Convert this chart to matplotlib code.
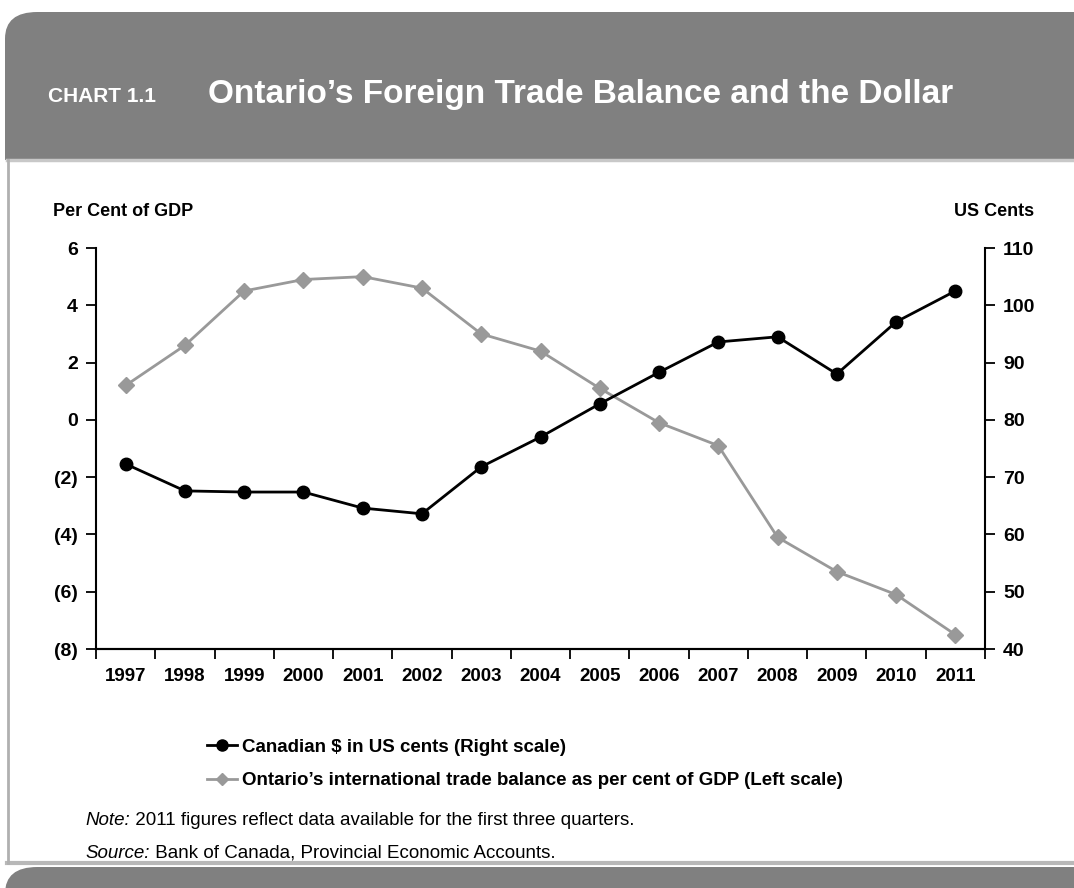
import numpy as np
import matplotlib
matplotlib.use("Agg")
import matplotlib.pyplot as plt
from matplotlib.patches import FancyBboxPatch, Rectangle
from matplotlib.lines import Line2D
from matplotlib.ticker import FuncFormatter, FixedLocator

years = ["1997", "1998", "1999", "2000", "2001", "2002", "2003", "2004",
         "2005", "2006", "2007", "2008", "2009", "2010", "2011"]
trade_balance = [1.2, 2.6, 4.5, 4.9, 5.0, 4.6, 3.0, 2.4, 1.1, -0.1, -0.9, -4.1, -5.3, -6.1, -7.5]
cad_usd = [72.3, 67.6, 67.4, 67.4, 64.6, 63.6, 71.8, 77.0, 82.8, 88.3, 93.6, 94.5, 88.0, 97.1, 102.5]

left_ticks = [-8, -6, -4, -2, 0, 2, 4, 6]
right_ticks = [40, 50, 60, 70, 80, 90, 100, 110]

plt.rcParams['font.family'] = ['Liberation Sans', 'DejaVu Sans']

W, H = 1074, 888
fig = plt.figure(figsize=(W / 100, H / 100), dpi=100)

def fx(px):
    return px / W

def fy(py):
    return 1 - py / H

# header band
hdr = FancyBboxPatch((fx(5), fy(300)), 1.2, fy(12) - fy(300),
                     boxstyle="round,pad=0,rounding_size=0.03",
                     transform=fig.transFigure, facecolor="#808080",
                     edgecolor="none", zorder=0)
fig.patches.append(hdr)
# footer band
ftr = FancyBboxPatch((fx(5), fy(1000)), 1.2, fy(867) - fy(1000),
                     boxstyle="round,pad=0,rounding_size=0.03",
                     transform=fig.transFigure, facecolor="#808080",
                     edgecolor="none", zorder=0)
fig.patches.append(ftr)
# white panel
fig.patches.append(Rectangle((0, fy(862)), 1.0, fy(160) - fy(862),
                             transform=fig.transFigure, facecolor="white",
                             edgecolor="none", zorder=1))
fig.lines.append(Line2D([fx(7), 1.0], [fy(160), fy(160)], transform=fig.transFigure,
                        color="#c8c8c8", linewidth=2.5, zorder=2))
fig.lines.append(Line2D([fx(7), 1.0], [fy(863), fy(863)], transform=fig.transFigure,
                        color="#b8b8b8", linewidth=3, zorder=2))
fig.lines.append(Line2D([fx(8), fx(8)], [fy(160), fy(863)], transform=fig.transFigure,
                        color="#b0b0b0", linewidth=2, zorder=2))

fig.text(fx(48), fy(97), "CHART 1.1", color="white", fontsize=15, fontweight="bold",
         va="center", ha="left")
fig.text(fx(208), fy(94), "Ontario\u2019s Foreign Trade Balance and the Dollar", color="white",
         fontsize=24, fontweight="bold", va="center", ha="left")

ax = fig.add_axes([fx(96), fy(649), fx(985) - fx(96), fy(248) - fy(649)])
ax.set_zorder(3)
ax.patch.set_visible(False)
x = np.arange(len(years))

ax.plot(x, trade_balance, color="#999999", linewidth=2, marker="D", markersize=8,
        markeredgecolor="#999999", markerfacecolor="#999999", zorder=3)
ax.set_xlim(-0.5, len(years) - 0.5)
ax.set_ylim(-8, 6)
ax.set_yticks(left_ticks)
ax.yaxis.set_major_formatter(FuncFormatter(lambda v, p: "(%d)" % abs(v) if v < 0 else "%d" % v))

ax2 = ax.twinx()
ax2.plot(x, cad_usd, color="black", linewidth=2, marker="o", markersize=9, zorder=4)
ax2.set_ylim(40, 110)
ax2.set_yticks(right_ticks)

ax.set_xticks(x)
ax.set_xticklabels(years)
ax.xaxis.set_minor_locator(FixedLocator(np.arange(-0.5, len(years), 1.0)))
ax.tick_params(axis="x", which="major", length=0, pad=14, labelsize=13.5)
ax.tick_params(axis="x", which="minor", length=7, width=1.3, direction="out")
ax.tick_params(axis="y", length=7, width=1.3, labelsize=14, pad=6)
ax2.tick_params(axis="y", length=7, width=1.3, labelsize=14, pad=6)
for lab in ax.get_xticklabels() + ax.get_yticklabels() + ax2.get_yticklabels():
    lab.set_fontweight("bold")

for a in (ax, ax2):
    a.spines["top"].set_visible(False)
    for s in ("left", "right", "bottom"):
        a.spines[s].set_linewidth(1.5)
ax.spines["right"].set_visible(False)
ax2.spines["left"].set_visible(False)

fig.text(fx(53), fy(212), "Per Cent of GDP", fontsize=13, fontweight="bold", va="center", ha="left")
fig.text(fx(1034), fy(212), "US Cents", fontsize=13, fontweight="bold", va="center", ha="right")

handles = [Line2D([], [], color="black", linewidth=2, marker="o", markersize=8),
           Line2D([], [], color="#999999", linewidth=2, marker="D", markersize=6)]
labels = ["Canadian $ in US cents (Right scale)",
          "Ontario\u2019s international trade balance as per cent of GDP (Left scale)"]
fig.legend(handles, labels, loc="upper left", bbox_to_anchor=(fx(190), fy(722)),
           frameon=False, handlelength=1.6, handletextpad=0.3, labelspacing=0.85,
           prop={"size": 13.5, "weight": "bold"})

# note and source, plain text placed right after the italic lead-in
t1 = fig.text(fx(85), fy(820), "Note:", fontsize=13.5, style="italic", va="center", ha="left")
ax.annotate(" 2011 figures reflect data available for the first three quarters.",
            xy=(1, 0.5), xycoords=t1, fontsize=13.5, va="center", ha="left",
            annotation_clip=False)
t2 = fig.text(fx(85), fy(853), "Source:", fontsize=13.5, style="italic", va="center", ha="left")
ax.annotate(" Bank of Canada, Provincial Economic Accounts.",
            xy=(1, 0.5), xycoords=t2, fontsize=13.5, va="center", ha="left",
            annotation_clip=False)

fig.savefig("out.png", dpi=100, facecolor="white")
